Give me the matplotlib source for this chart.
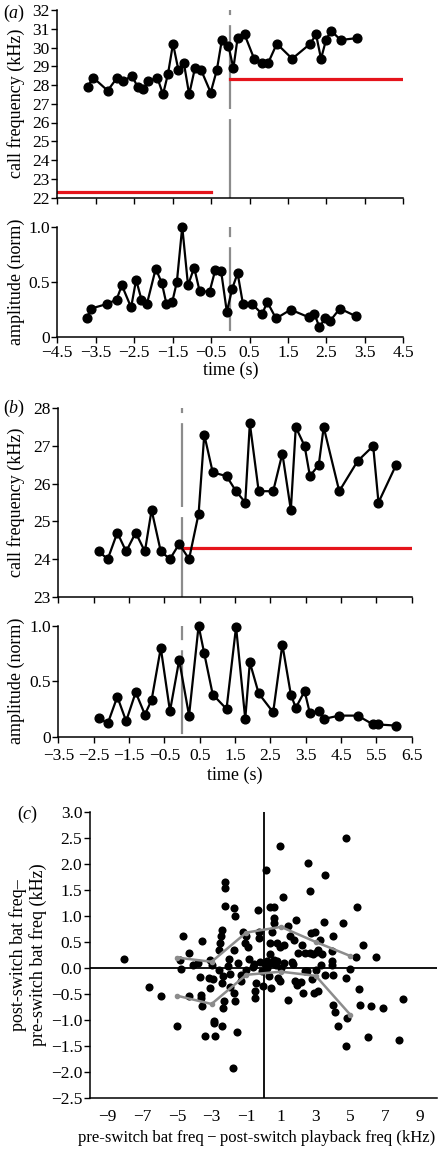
import numpy as np
import matplotlib
matplotlib.use('Agg')
import matplotlib.pyplot as plt

plt.rcParams['font.family'] = ['Liberation Serif', 'DejaVu Serif']
plt.rcParams['mathtext.fontset'] = 'custom'
plt.rcParams['mathtext.rm'] = 'Liberation Serif'
plt.rcParams['mathtext.it'] = 'Liberation Serif:italic'
plt.rcParams['font.size'] = 12

# panel (a)
a_t_freq = [-3.71, -3.57, -3.19, -2.94, -2.78, -2.56, -2.41, -2.26, -2.13, -1.90,
            -1.75, -1.62, -1.49, -1.35, -1.21, -1.07, -0.92, -0.76, -0.51, -0.35,
            -0.22, -0.05, 0.08, 0.19, 0.37, 0.62, 0.83, 0.99, 1.21, 1.61,
            2.08, 2.23, 2.36, 2.49, 2.62, 2.87, 3.29]
a_freq = [27.9, 28.4, 27.7, 28.4, 28.2, 28.5, 27.9, 27.8, 28.2, 28.4,
          27.5, 28.6, 30.2, 28.8, 29.2, 27.5, 28.9, 28.8, 27.6, 28.8,
          30.4, 30.1, 28.9, 30.5, 30.7, 29.4, 29.2, 29.2, 30.2, 29.4,
          30.2, 30.7, 29.4, 30.4, 30.9, 30.4, 30.5]
a_t_amp = [-3.74, -3.62, -3.22, -2.96, -2.82, -2.58, -2.45, -2.31, -2.17, -1.94,
           -1.78, -1.66, -1.51, -1.39, -1.25, -1.10, -0.94, -0.80, -0.54, -0.39,
           -0.24, -0.09, 0.05, 0.19, 0.33, 0.57, 0.83, 0.96, 1.19, 1.57,
           2.05, 2.19, 2.32, 2.46, 2.60, 2.85, 3.27]
a_amp = [0.17, 0.26, 0.30, 0.34, 0.47, 0.27, 0.52, 0.34, 0.30, 0.62,
         0.49, 0.30, 0.32, 0.50, 1.00, 0.47, 0.63, 0.42, 0.41, 0.61,
         0.60, 0.23, 0.44, 0.58, 0.30, 0.30, 0.21, 0.32, 0.17, 0.25,
         0.18, 0.21, 0.09, 0.17, 0.15, 0.26, 0.19]
a_playback_t = [[-4.5, -0.5], [0.0, 4.5]]
a_playback_f = [22.3, 28.3]

# panel (b)
b_t = [-2.36, -2.10, -1.83, -1.58, -1.31, -1.05, -0.86, -0.60, -0.34, -0.08,
       0.20, 0.47, 0.63, 0.87, 1.26, 1.53, 1.79, 1.92, 2.17, 2.58,
       2.84, 3.08, 3.22, 3.47, 3.62, 3.87, 4.01, 4.45, 4.97, 5.41,
       5.56, 6.06]
b_freq = [24.2, 24.0, 24.7, 24.2, 24.7, 24.2, 25.3, 24.2, 24.0, 24.4,
          24.0, 25.2, 27.3, 26.3, 26.2, 25.8, 25.5, 27.6, 25.8, 25.8,
          26.8, 25.3, 27.5, 27.0, 26.2, 26.5, 27.5, 25.8, 26.6, 27.0,
          25.5, 26.5]
b_amp = [0.17, 0.12, 0.36, 0.14, 0.40, 0.20, 0.33, 0.80, 0.23, 0.69,
         0.19, 1.00, 0.75, 0.38, 0.25, 0.99, 0.16, 0.67, 0.39, 0.22,
         0.83, 0.38, 0.26, 0.41, 0.21, 0.23, 0.16, 0.19, 0.19, 0.11,
         0.11, 0.10]
b_playback_t = [0.0, 6.5]
b_playback_f = 24.3

# panel (c)
c_x = [-8.03, -4.67, -4.82, -4.29, -3.53, -3.09, -2.57, -2.52, -2.44, -2.38,
       -2.23, -2.23, -2.23, -1.73, -1.72, -1.66, -0.32, -1.18, -1.05, -0.91,
       -0.99, -0.82, -0.29, -0.29, 0.13, 0.36, 0.57, 0.92, 1.14, 0.48,
       0.61, 0.57, 0.38, 0.76, 0.95, 1.20, 1.43, 1.53, 1.72, 1.85,
       2.00, 2.19, 2.38, 2.56, 2.65, 2.71, 2.96, 3.15, 3.25, 3.47,
       3.53, 3.91, 3.97, 4.58, 4.77, 5.40, 5.34, 5.72, 6.45,
       0.00, 0.19, 0.57, 0.76, 1.62, 2.67, 2.86, 3.05, 3.34, 3.91,
       -0.57, 0.34, 0.44,
       -6.58, -5.91, -5.01, -4.77, -4.29, -4.06, -3.62, -3.62, -3.53, -3.66,
       -3.36, -3.14, -3.09, -2.92, -2.86, -2.86, -2.78, -2.57, -2.38, -2.33,
       -2.29, -2.33, -2.38, -2.04, -1.91, -1.96, -1.77, -1.72, -1.66, -1.56,
       -1.33, -1.29, -0.99, -0.63, -0.51, -0.48, -0.42, -0.09, -0.04, 0.10,
       0.19, 0.32, 0.42, 0.69, 0.80, 0.92, 1.01, 1.43, 1.68, 1.91,
       2.16, 2.29, 2.38, 2.77, 2.90, 3.01, 3.15, 3.30, 3.53, 3.95,
       4.01, 4.01, 4.10, 4.29, 4.77, 4.81, 4.77, 4.96, 5.49, 5.53,
       6.01, 6.20, 6.90, 7.82, 8.01,
       -1.50, -2.00, -3.80, -3.00, 1.20, 2.50, 1.80, -0.20]
c_y = [0.18, 0.61, 0.16, 0.29, 0.51, 0.16, 0.35, 0.48, 0.61, 0.73,
       1.54, 1.66, 1.19, 0.35, 1.15, 0.99, 1.12, 0.70, 0.48, 0.41,
       0.61, 0.18, 0.70, 0.57, 1.88, 1.18, 1.18, 2.34, 1.37, 0.70,
       0.96, 0.86, 0.48, 0.48, 0.41, 0.45, 0.80, 0.61, 0.54, 0.93,
       0.29, 0.45, 0.29, 2.01, 1.47, 0.67, 0.70, 0.35, 0.54, 0.89,
       1.79, 0.32, 0.61, 0.86, 2.49, 1.18, 0.22, 0.45, 0.22,
       0.10, 0.13, 0.16, 0.13, 0.11, 0.29, 0.26, 0.30, 0.26, 0.13,
       0.08, 0.26, 0.10,
       -0.36, -0.54, -1.11, -0.01, -0.54, 0.06, -0.51, -0.58, -0.72, -0.18,
       -1.30, -0.19, -0.38, -0.22, -1.01, -1.06, -1.30, -0.03, -0.28, -0.16,
       -0.63, -0.77, -1.11, 0.03, -0.11, -0.37, -1.92, -0.47, -0.63, -1.22,
       -0.13, -0.25, -0.03, 0.02, -0.44, -0.57, -0.28, -0.06, -0.35, 0.09,
       0.01, -0.16, -0.38, 0.06, -0.19, -0.25, 0.01, -0.62, 0.08, -0.32,
       -0.27, -0.47, -0.06, -0.22, -0.47, -0.03, -0.44, 0.06, -0.14, 0.06,
       -0.14, -0.70, -0.85, -1.11, -0.20, -0.95, -1.49, -0.01, -0.41, -0.70,
       -1.33, -0.73, -0.76, -1.39, -0.60,
       0.10, 0.18, 0.10, 0.05, 0.10, -0.05, -0.25, 0.12]
c_bins = [-5, -3, -1, 1, 3, 5]
c_upper = [0.20, 0.12, 0.68, 0.79, 0.50, 0.23]
c_lower = [-0.53, -0.69, -0.13, -0.07, -0.15, -0.90]

switch_time = 0.0

W, H = 447, 1156
fig = plt.figure(figsize=(W / 100, H / 100), dpi=100)


def box(left, top, right, bottom):
    return [left / W, 1 - bottom / H, (right - left) / W, (bottom - top) / H]


def style(ax):
    for s in ['top', 'right']:
        ax.spines[s].set_visible(False)
    for s in ['left', 'bottom']:
        ax.spines[s].set_linewidth(1.1)
    ax.tick_params(direction='out', length=4, width=1.0, labelsize=12.5, pad=1.5)


def switch_line(ax, y0, y1, first_px):
    # dashes drawn from the top, first dash shortened
    on, off = 83 / 2.2, 10 / 2.2
    offset = (83 - first_px) / 2.2
    ax.plot([switch_time, switch_time], [y1, y0], color='#8c8c8c', lw=1.6,
            linestyle=(offset, (on, off)), zorder=1, clip_on=False)


def fmt_minus(v):
    return ('%.1f' % v).replace('-', '\u2212')


line_kw = dict(color='black', lw=1.6, marker='o', ms=6.3, zorder=3, clip_on=False)
red = '#e5141b'
lab = 13

# (a) frequency
ax = fig.add_axes(box(57.3, 10, 403.3, 197.5))
style(ax)
switch_line(ax, 22, 32, 5)
ax.plot(a_playback_t[0], [a_playback_f[0]] * 2, color=red, lw=2.3, zorder=2)
ax.plot(a_playback_t[1], [a_playback_f[1]] * 2, color=red, lw=2.3, zorder=2)
ax.plot(a_t_freq, a_freq, **line_kw)
ax.set_xlim(-4.5, 4.5)
ax.set_ylim(22, 32)
ax.set_xticks(np.arange(-4.5, 4.6, 1.0))
ax.set_xticklabels([])
ax.set_yticks(range(22, 33))
ax.set_ylabel('call frequency (kHz)', fontsize=lab)
ax.yaxis.set_label_coords(-0.094, 0.5)
fig.text(3 / W, 1 - 13 / H, '($\\mathit{a}$)', fontsize=13, va='center', ha='left')

# (a) amplitude
ax = fig.add_axes(box(57.3, 226.7, 403.3, 337.3))
style(ax)
switch_line(ax, 0, 1.0, 10)
ax.plot(a_t_amp, a_amp, **line_kw)
ax.set_xlim(-4.5, 4.5)
ax.set_ylim(0, 1.0)
ticks = np.arange(-4.5, 4.6, 1.0)
ax.set_xticks(ticks)
ax.set_xticklabels([fmt_minus(t) for t in ticks])
ax.set_yticks([0, 0.5, 1.0])
ax.set_yticklabels(['0', '0.5', '1.0'])
ax.set_ylabel('amplitude (norm)', fontsize=lab)
ax.yaxis.set_label_coords(-0.094, 0.5)
ax.set_xlabel('time (s)', fontsize=lab)
ax.xaxis.set_label_coords(0.5, -0.225)

# (b) frequency
ax = fig.add_axes(box(58.3, 408.3, 411.7, 596.7))
style(ax)
switch_line(ax, 23, 28, 5)
ax.plot(b_playback_t, [b_playback_f] * 2, color=red, lw=2.3, zorder=2)
ax.plot(b_t, b_freq, **line_kw)
ax.set_xlim(-3.5, 6.5)
ax.set_ylim(23, 28)
ax.set_xticks(np.arange(-3.5, 6.6, 1.0))
ax.set_xticklabels([])
ax.set_yticks(range(23, 29))
ax.set_ylabel('call frequency (kHz)', fontsize=lab)
ax.yaxis.set_label_coords(-0.095, 0.5)
fig.text(3 / W, 1 - 408 / H, '($\\mathit{b}$)', fontsize=13, va='center', ha='left')

# (b) amplitude
ax = fig.add_axes(box(58.3, 625.7, 411.7, 736.7))
style(ax)
switch_line(ax, 0, 1.0, 14)
ax.plot(b_t, b_amp, **line_kw)
ax.set_xlim(-3.5, 6.5)
ax.set_ylim(0, 1.0)
ticks = np.arange(-3.5, 6.6, 1.0)
ax.set_xticks(ticks)
ax.set_xticklabels([fmt_minus(t) for t in ticks])
ax.tick_params(axis='x', pad=4)
ax.set_yticks([0, 0.5, 1.0])
ax.set_yticklabels(['0', '0.5', '1.0'])
ax.set_ylabel('amplitude (norm)', fontsize=lab)
ax.yaxis.set_label_coords(-0.095, 0.5)
ax.set_xlabel('time (s)', fontsize=lab)
ax.xaxis.set_label_coords(0.5, -0.27)

# (c) scatter
ax = fig.add_axes(box(90, 811.7, 437.3, 1098.3))
style(ax)
ax.axvline(0, color='black', lw=1.3, zorder=1)
ax.axhline(0, color='black', lw=1.3, zorder=1)
ax.scatter(c_x, c_y, s=34, color='black', zorder=3, linewidths=0)
ax.plot(c_bins, c_upper, color='#8c8c8c', lw=1.8, marker='o', ms=3, zorder=4)
ax.plot(c_bins, c_lower, color='#8c8c8c', lw=1.8, marker='o', ms=3, zorder=4)
ax.set_xlim(-10, 10)
ax.set_ylim(-2.5, 3.0)
ax.set_xticks(range(-9, 10, 2))
ax.set_xticklabels([str(t).replace('-', '\u2212') for t in range(-9, 10, 2)])
yt = np.arange(-2.5, 3.01, 0.5)
ax.set_yticks(yt)
ax.set_yticklabels([fmt_minus(v) for v in yt])
ax.tick_params(axis='x', length=0, pad=8)
ax.set_ylabel('post-switch bat freq\u2013\npre-switch bat freq (kHz)', fontsize=lab,
              linespacing=1.15)
ax.yaxis.set_label_coords(-0.125, 0.5)
ax.set_xlabel('pre-switch bat freq\u2009\u2212\u2009post-switch playback freq (kHz)',
              fontsize=12)
ax.xaxis.set_label_coords(0.48, -0.11)
fig.text(17 / W, 1 - 814 / H, '($\\mathit{c}$)', fontsize=13, va='center', ha='left')

fig.savefig('out.png', dpi=100)
